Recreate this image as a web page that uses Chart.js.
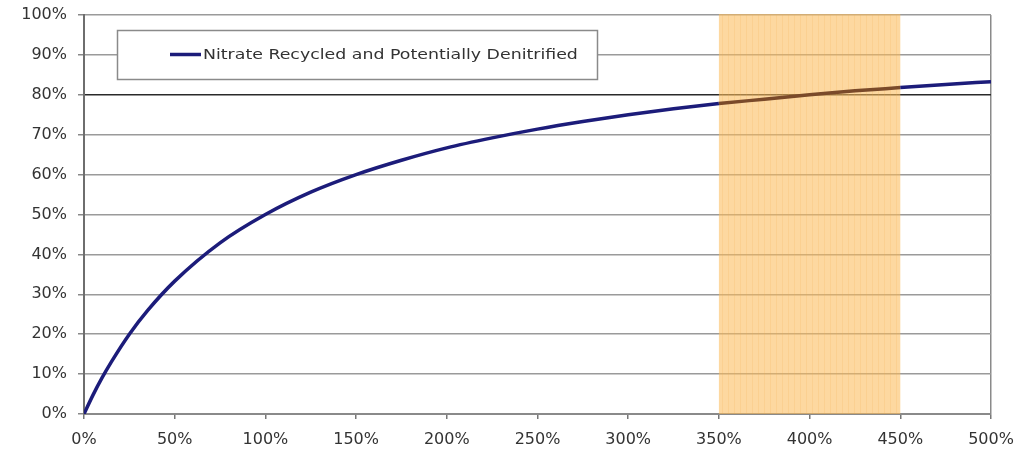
<!DOCTYPE html>
<html>
<head>
<meta charset="utf-8">
<script src="https://cdn.jsdelivr.net/npm/chart.js@4.4.1/dist/chart.umd.min.js"></script>
<style>
  html, body { margin: 0; padding: 0; background: #fff; }
  #wrap { width: 1020px; height: 455px; position: relative; }
</style>
</head>
<body>
<div id="wrap"><canvas id="c" width="1020" height="455"></canvas></div>
<script>
// Recycle ratio (% of influent flow) and share of nitrate recycled
const recycleRatio = [0, 5, 10, 15, 25, 35, 50, 75, 100, 125, 150, 175, 200, 225, 250, 275, 300, 325, 350, 375, 400, 425, 450, 475, 500];
const nitrateRecycled = [0, 4.8, 9.1, 13, 20, 25.9, 33.3, 42.9, 50, 55.6, 60, 63.6, 66.7, 69.2, 71.4, 73.3, 75, 76.5, 77.8, 78.9, 80, 81, 81.8, 82.6, 83.3];
const seriesLabel = 'Nitrate Recycled and Potentially Denitrified';
const xTicks = [0, 50, 100, 150, 200, 250, 300, 350, 400, 450, 500];
const yTicks = [0, 10, 20, 30, 40, 50, 60, 70, 80, 90, 100];
const highlightRange = [350, 450];

const FONT = "'DejaVu Sans', 'Liberation Sans', Arial, sans-serif";
const LINE_COLOR = '#1c1c7a';
const LINE_IN_BAND = '#7a4a2a';

// Shaded operating band, laid over the grid and under the curve
const bandPlugin = {
  id: 'band',
  beforeDatasetsDraw(chart) {
    const { ctx, chartArea, scales } = chart;
    const x0 = scales.x.getPixelForValue(highlightRange[0]);
    const x1 = scales.x.getPixelForValue(highlightRange[1]);
    ctx.save();
    ctx.fillStyle = 'rgba(251, 188, 92, 0.58)';
    ctx.fillRect(x0, chartArea.top - 1, x1 - x0, chartArea.bottom - chartArea.top + 1);
    ctx.strokeStyle = 'rgba(240, 165, 70, 0.16)';
    ctx.lineWidth = 1;
    for (let x = x0 + 3; x < x1; x += 6) {
      ctx.beginPath();
      ctx.moveTo(Math.round(x) + 0.5, chartArea.top);
      ctx.lineTo(Math.round(x) + 0.5, chartArea.bottom);
      ctx.stroke();
    }
    ctx.restore();
  }
};

// Boxed legend inside the plot area
const boxLegend = {
  id: 'boxLegend',
  afterDraw(chart) {
    const { ctx, chartArea } = chart;
    const ds = chart.data.datasets[0];
    const left = chartArea.left + 33, top = chartArea.top + 15, w = 480, h = 49;
    ctx.save();
    ctx.fillStyle = '#fff';
    ctx.fillRect(left, top, w, h);
    ctx.strokeStyle = '#8a8a8a';
    ctx.lineWidth = 1.5;
    ctx.strokeRect(left + 0.5, top + 0.5, w, h);
    const cy = top + h / 2;
    ctx.strokeStyle = ds.borderColor;
    ctx.lineWidth = 3.5;
    ctx.beginPath();
    ctx.moveTo(left + 53, cy);
    ctx.lineTo(left + 84, cy);
    ctx.stroke();
    ctx.fillStyle = '#333';
    ctx.font = '14px ' + FONT;
    ctx.textBaseline = 'middle';
    ctx.translate(left + 86, cy + 1);
    ctx.scale(1.24, 1);
    ctx.fillText(ds.label, 0, 0);
    ctx.restore();
  }
};

new Chart(document.getElementById('c'), {
  type: 'line',
  data: {
    datasets: [{
      label: seriesLabel,
      data: recycleRatio.map((r, i) => ({ x: r, y: nitrateRecycled[i] })),
      borderColor: LINE_COLOR,
      borderWidth: 3.5,
      pointRadius: 0,
      cubicInterpolationMode: 'monotone',
      fill: false,
      segment: {
        borderColor: ctx => (ctx.p0.parsed.x >= highlightRange[0] && ctx.p1.parsed.x <= highlightRange[1]) ? LINE_IN_BAND : undefined
      }
    }]
  },
  options: {
    responsive: false,
    animation: false,
    layout: { padding: { left: 0, right: 29, top: 15, bottom: 0 } },
    plugins: { legend: { display: false }, tooltip: { enabled: false } },
    scales: {
      x: {
        type: 'linear',
        min: 0, max: 500,
        afterBuildTicks(scale) { scale.ticks = xTicks.map(v => ({ value: v })); },
        afterFit(scale) {
          scale.height = 41;
          scale.paddingLeft = 0;
          scale.paddingRight = 0;
        },
        ticks: {
          callback: v => v + '%',
          color: '#333',
          font: { family: FONT, size: 16 },
          padding: 11,
          maxRotation: 0,
          autoSkip: false
        },
        grid: {
          color: ctx => (ctx.tick && ctx.tick.value === 500) ? '#8a8a8a' : 'rgba(0,0,0,0)',
          tickColor: '#777',
          tickLength: 5,
          lineWidth: 1.5
        },
        border: { display: true, color: '#8a8a8a', width: 2 }
      },
      y: {
        type: 'linear',
        min: 0, max: 100,
        afterBuildTicks(scale) { scale.ticks = yTicks.map(v => ({ value: v })); },
        afterFit(scale) {
          scale.width = 84;
          scale.paddingTop = 0;
          scale.paddingBottom = 0;
        },
        ticks: {
          callback: v => v + '%',
          color: '#333',
          font: { family: FONT, size: 16 },
          padding: 11,
          autoSkip: false
        },
        grid: {
          color: ctx => (ctx.tick && ctx.tick.value === 80) ? '#2a2a2a' : '#9a9a9a',
          tickColor: '#888',
          tickLength: 6,
          lineWidth: 1.5
        },
        border: { display: true, color: '#6e6e6e', width: 2 }
      }
    }
  },
  plugins: [bandPlugin, boxLegend]
});
</script>
</body>
</html>
